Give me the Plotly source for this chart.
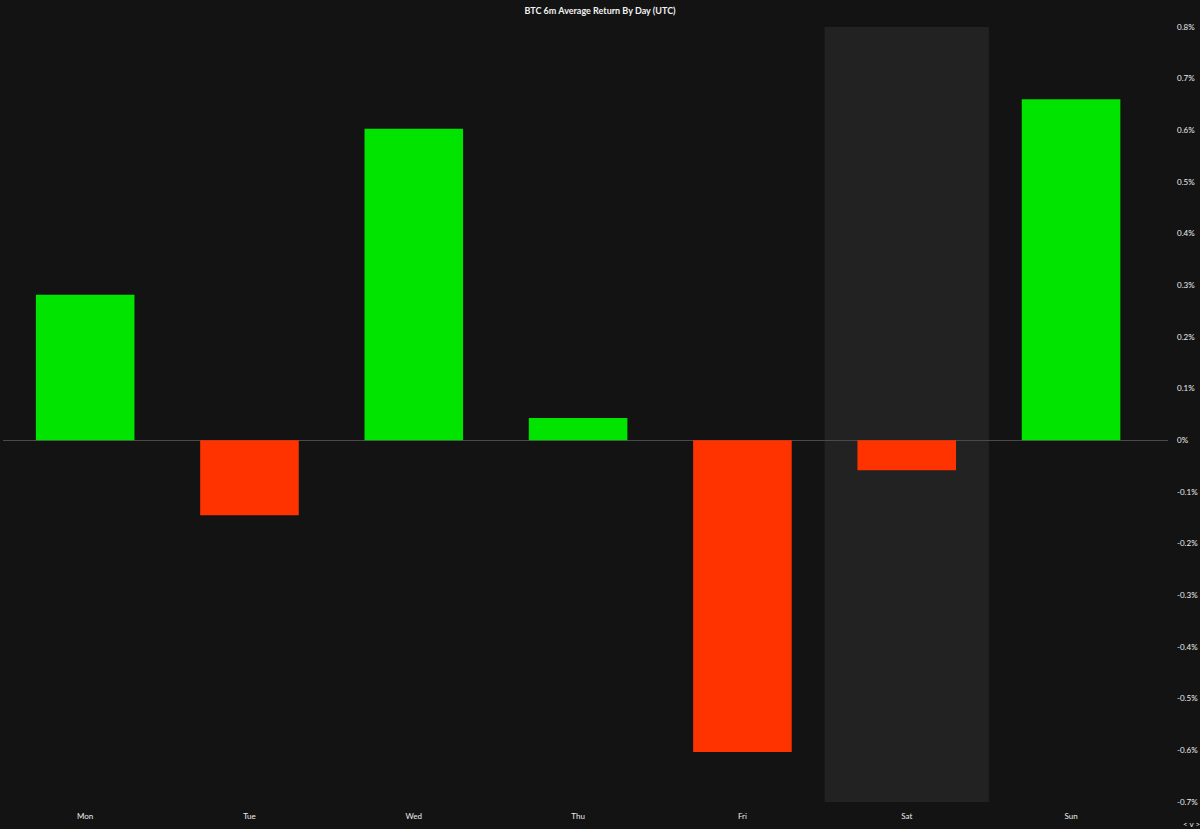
import plotly.graph_objects as go

days = ["Mon", "Tue", "Wed", "Thu", "Fri", "Sat", "Sun"]
avg_return = [0.282, -0.145, 0.603, 0.043, -0.603, -0.058, 0.660]
highlight_day = "Sat"

y_ticks = [0.8, 0.7, 0.6, 0.5, 0.4, 0.3, 0.2, 0.1, 0, -0.1, -0.2, -0.3, -0.4, -0.5, -0.6, -0.7]
y_labels = [f"{t:g}%" for t in y_ticks]

GREEN = "#00e400"
RED = "#ff3300"
BG = "#131313"

colors = [GREEN if v >= 0 else RED for v in avg_return]

fig = go.Figure()
fig.add_trace(
    go.Bar(
        x=days,
        y=avg_return,
        marker=dict(color=colors, line=dict(width=0)),
        width=0.6,
        hovertemplate="%{x}: %{y:.2f}%<extra></extra>",
    )
)

# shaded column behind the current day
idx = days.index(highlight_day)
fig.add_shape(
    type="rect",
    xref="x",
    yref="paper",
    x0=idx - 0.5,
    x1=idx + 0.5,
    y0=0,
    y1=1,
    fillcolor="#222222",
    line=dict(width=0),
    layer="below",
)

fig.add_annotation(
    text="< v >",
    xref="paper",
    yref="paper",
    x=1.0,
    y=0,
    xanchor="left",
    yanchor="top",
    xshift=13,
    yshift=-15,
    showarrow=False,
    font=dict(size=8, color="#eeeeee"),
)

fig.update_layout(
    width=1200,
    height=829,
    paper_bgcolor=BG,
    plot_bgcolor=BG,
    margin=dict(l=3, r=32, t=27, b=27),
    showlegend=False,
    font=dict(family="Lato, sans-serif", color="#eeeeee", size=8),
    title=dict(
        text="<b>BTC 6m Average Return By Day (UTC)</b>",
        x=0.5,
        xanchor="center",
        y=0.991,
        yanchor="top",
        font=dict(size=9, color="#f2f2f2"),
    ),
    xaxis=dict(
        range=[-0.5, 6.59],
        showgrid=False,
        zeroline=False,
        showline=False,
        ticks="",
        ticklabelstandoff=8,
        tickfont=dict(size=8, color="#eeeeee"),
    ),
    yaxis=dict(
        side="right",
        range=[-0.7, 0.8],
        tickvals=y_ticks,
        ticktext=y_labels,
        showgrid=False,
        zeroline=True,
        zerolinecolor="#4a4a4a",
        zerolinewidth=1,
        showline=False,
        ticks="",
        ticklabelstandoff=8,
        tickfont=dict(size=8, color="#eeeeee"),
    ),
    bargap=0.4,
)

fig.write_html(
    "out.html",
    config={"displayModeBar": False},
    post_script="document.body.style.margin='0';document.body.style.background='#131313';",
)
